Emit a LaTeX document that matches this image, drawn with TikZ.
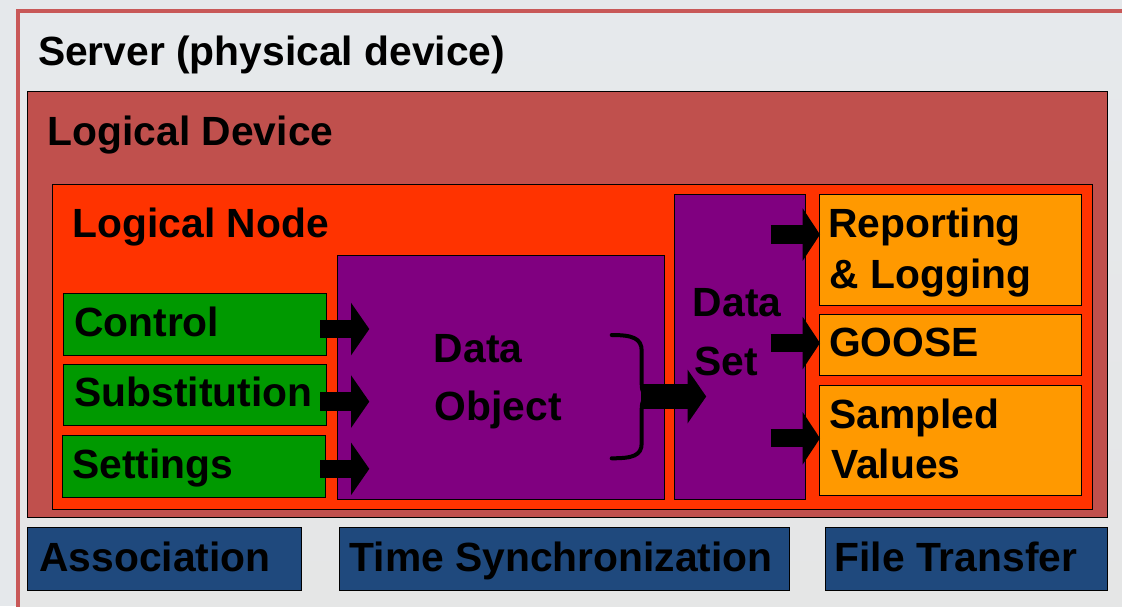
\documentclass[tikz,border=0pt]{standalone}
\usepackage{fontspec}
\setmainfont{Liberation Sans}
\usetikzlibrary{calc,arrows.meta}

\definecolor{pagebg}{RGB}{229,232,235}
\definecolor{srvtop}{RGB}{230,233,236}
\definecolor{srvbot}{RGB}{229,229,229}
\definecolor{srvline}{RGB}{200,88,88}
\definecolor{ldred}{RGB}{192,80,77}
\definecolor{lnred}{RGB}{255,51,0}
\definecolor{dopurple}{RGB}{128,0,128}
\definecolor{ingreen}{RGB}{0,153,0}
\definecolor{outorange}{RGB}{255,153,0}
\definecolor{svcblue}{RGB}{31,73,125}

\tikzset{
  box/.style={draw=black, line width=1.1pt, rectangle, inner sep=0pt, anchor=north west},
  lbl/.style={anchor=base west, inner sep=0pt, text=black,
              font=\fontsize{40.8}{48}\selectfont\bfseries},
  inarrow/.style={draw=black, line width=18.7pt,
                  -{Triangle[length=18.3pt, width=52.7pt, line width=0pt]}},
  outarrow/.style={draw=black, line width=18.3pt,
                   -{Triangle[length=17.3pt, width=52.4pt, line width=0pt]}},
  bigarrow/.style={draw=black, line width=25pt,
                   -{Triangle[length=18.7pt, width=54pt, line width=0pt]}},
  brace/.style={draw=black, line width=4pt, line cap=round, line join=round}
}

\begin{document}
\begin{tikzpicture}[x=1pt, y=-1pt]
\useasboundingbox (0,0) rectangle (1122,606);
\fill[pagebg] (0,0) rectangle (1122,606);
\clip (0,0) rectangle (1122,606);

% Server (physical device)
\node[box, draw=srvline, line width=4.5pt, top color=srvtop, bottom color=srvbot,
      minimum width=1200pt, minimum height=700pt] (server) at (15.5,8.8) {};
\node[lbl] (serverlbl) at (37.8,65) {Server (physical device)};

% Logical device and logical node
\node[box, fill=ldred, minimum width=1080pt, minimum height=426pt] (ld) at (26.5,91) {};
\node[lbl] (ldlbl) at (47.5,145.5) {Logical Device};
\node[box, fill=lnred, minimum width=1040pt, minimum height=325pt] (ln) at (52,184) {};
\node[lbl] (lnlbl) at (72.5,237) {Logical Node};

% Inputs
\node[box, fill=ingreen, minimum width=263pt, minimum height=62pt] (ctrl) at (63,293) {};
\node[lbl] at (74,336.7) {Control};
\node[box, fill=ingreen, minimum width=263pt, minimum height=61.5pt] (subst) at (63,363.5) {};
\node[lbl] at (74.3,406.7) {Substitution};
\node[box, fill=ingreen, minimum width=262.5pt, minimum height=62pt] (sett) at (62,434.5) {};
\node[lbl] at (72.3,478.3) {Settings};

% Data object and data set
\node[box, fill=dopurple, minimum width=326.5pt, minimum height=244pt] (dobj) at (337,255) {};
\node[lbl] at (433.7,362.3) {Data};
\node[lbl] at (434.7,420) {Object};
\node[box, fill=dopurple, minimum width=131pt, minimum height=305pt] (dset) at (673.5,194) {};
\node[lbl] at (692.7,316.7) {Data};
\node[lbl] at (694,375) {Set};

% Outputs
\node[box, fill=outorange, minimum width=262.5pt, minimum height=110.5pt] (rep) at (818.5,194) {};
\node[lbl] at (828,237.7) {Reporting};
\node[lbl] at (829.5,288.3) {\& Logging};
\node[box, fill=outorange, minimum width=262.5pt, minimum height=61pt] (goose) at (818.5,314) {};
\node[lbl] at (829,356.7) {GOOSE};
\node[box, fill=outorange, minimum width=262.5pt, minimum height=110.5pt] (sv) at (818.5,384.5) {};
\node[lbl] at (829.3,428.3) {Sampled};
\node[lbl] at (831,478.3) {Values};

% Services
\node[box, fill=svcblue, minimum width=274pt, minimum height=62.5pt] (assoc) at (26.5,527) {};
\node[lbl] at (39.3,571) {Association};
\node[box, fill=svcblue, minimum width=450pt, minimum height=62.5pt] (tsync) at (338.5,527) {};
\node[lbl] at (349.3,571) {Time Synchronization};
\node[box, fill=svcblue, minimum width=282pt, minimum height=62.5pt] (ftrans) at (824.5,527) {};
\node[lbl] at (834.3,571) {File Transfer};

% Inputs into the data object
\draw[inarrow] ($(ctrl.east)+(-7,4.5)$) -- ($(ctrl.east -| dobj.west)+(32.3,4.5)$);
\draw[inarrow] ($(subst.east)+(-7,6.8)$) -- ($(subst.east -| dobj.west)+(32.3,6.8)$);
\draw[inarrow] ($(sett.east)+(-5.5,2.8)$) -- ($(sett.east -| dobj.west)+(32.3,2.8)$);

% Brace gathering the data objects
\coordinate (bracetip) at (650,396.5);
\draw[brace] (611.7,335) .. controls (632,335) and (641.7,338) .. (641.7,351)
  -- (641.7,384) .. controls (641.7,393) and (645,396.5) .. (bracetip)
  .. controls (645,396.5) and (641.7,400) .. (641.7,409)
  -- (641.7,443) .. controls (641.7,456) and (632,458.3) .. (611.7,458.3);
\draw[bigarrow] ($(bracetip)+(-9,0)$) -- ($(bracetip -| dset.west)+(32.7,0)$);

% Data set to the services
\draw[outarrow] ($(rep.west -| dset.east)+(-35,-15.25)$) -- ($(rep.west)+(1.5,-15.25)$);
\draw[outarrow] ($(goose.west -| dset.east)+(-35,-2)$) -- ($(goose.west)+(1.5,-2)$);
\draw[outarrow] ($(sv.west -| dset.east)+(-35,-2)$) -- ($(sv.west)+(1.5,-2)$);
\end{tikzpicture}
\end{document}
